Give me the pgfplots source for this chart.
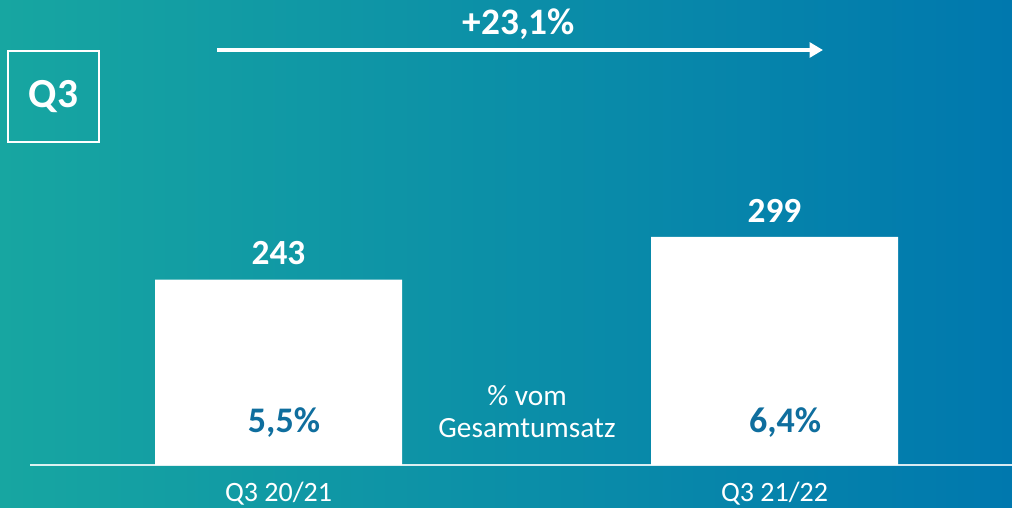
\documentclass[border=0pt]{standalone}
\usepackage{fontspec}
\setmainfont{Carlito}
\usepackage{pgfplots}
\pgfplotsset{compat=1.18}
\usetikzlibrary{arrows.meta}
\definecolor{bgL}{HTML}{17A6A1}
\definecolor{bgR}{HTML}{0078AE}
\definecolor{pctblue}{HTML}{0F6E9E}
\begin{document}
\begin{tikzpicture}
\shade[use as bounding box, left color=bgL, right color=bgR] (0,-31.5pt) rectangle (759pt,348.75pt);
\begin{axis}[
  at={(0,0)}, anchor=south west,
  scale only axis, width=759pt, height=348.75pt,
  xmin=0, xmax=1012, ymin=0, ymax=609.44,
  axis x line=bottom, axis y line=none,
  x axis line style={draw=none},
  major tick length=0pt,
  clip=false,
  xtick={278.5,774.5},
  xticklabels={Q3 20/21, Q3 21/22},
  xticklabel style={anchor=base, yshift=-27pt, white, font=\fontsize{21}{25}\selectfont},
  ytick=\empty,
  /pgf/number format/assume math mode=true,
]
% baseline
\draw[white, opacity=0.85, line width=1.3pt] (axis cs:30,0) -- (axis cs:1012,0);
\addplot[ybar, fill=white, draw=none, bar width=247,
  nodes near coords,
  point meta=y,
  every node near coord/.style={anchor=base, yshift=11pt, white, font=\fontsize{26.5}{30}\selectfont\bfseries},
] coordinates {(278.5,243) (774.5,299)};
% percentages
\node[pctblue, anchor=base, font=\fontsize{27}{31}\selectfont\bfseries] at (axis cs:284,42) {5,5\%};
\node[pctblue, anchor=base, font=\fontsize{27}{31}\selectfont\bfseries] at (axis cs:785,42) {6,4\%};
\node[white, anchor=base, font=\fontsize{22}{26}\selectfont] at (axis cs:527,78.6) {\% vom};
\node[white, anchor=base, font=\fontsize{22}{26}\selectfont] at (axis cs:527,35.4) {Gesamtumsatz};
% growth arrow
\draw[white, line width=3pt, -{Triangle[length=10pt, width=11pt]}] (axis cs:217,543.9) -- (axis cs:823,543.9);
\node[white, font=\fontsize{28}{32}\selectfont\bfseries] at (axis cs:519,577.5) {+23,1\%};
% Q3 box
\draw[white, line width=1.5pt] (axis cs:8,542.6) rectangle (axis cs:99,423.3);
\node[white, font=\fontsize{31}{35}\selectfont\bfseries] at (axis cs:53.5,483) {Q3};
\end{axis}
\end{tikzpicture}
\end{document}
